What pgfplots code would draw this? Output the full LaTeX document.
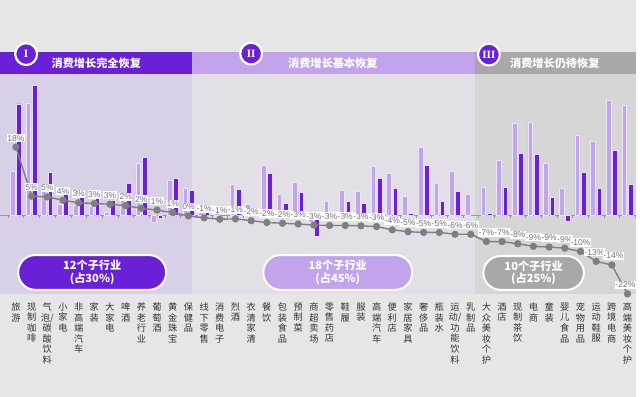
\documentclass[border=0pt]{standalone}
\usepackage{pgfplots}
\usepackage{pgfplotstable}
\pgfplotsset{compat=1.18}
\usepackage{fontspec}
\setmainfont{Liberation Sans}
\newfontfamily\cjk{Noto Sans CJK SC}
\newfontfamily\numfont{Liberation Serif}
\definecolor{dpur}{HTML}{6A20D6}
\definecolor{lpur}{HTML}{C1A4EC}
\definecolor{bgI}{HTML}{D8D0E7}
\definecolor{bgII}{HTML}{E2DFE6}
\definecolor{bgIII}{HTML}{D6D6D6}
\definecolor{bgall}{HTML}{E6E6E6}
\definecolor{hdIII}{HTML}{A8A8A8}
\definecolor{lgray}{HTML}{7F7F7F}

\pgfplotstableread{
idx light dark
0 44 112
1 113 131
2 24 43
3 11 21
4 10 19
5 9 18
6 3 15
7 15 32
8 52 58
9 -7 -3
10 35 37
11 27 25
12 4 4
13 3 nan
14 31 26
15 11 nan
16 50 42
17 21 12
18 33 23
19 -7 -21
20 14 nan
21 25 14
22 24 12
23 49 37
24 42 27
25 19 2
26 68 50
27 32 14
28 44 24
29 21 nan
30 28 2
31 55 28
32 92 62
33 93 61
34 52 18
35 27 -6
36 80 43
37 74 27
38 116 65
39 111 31
}\bars

\pgfplotstableread{
idx val lab dx
0 18.1 18 0
1 4.7 5 0
2 4.5 5 0
3 3.6 4 0
4 2.9 3 0
5 2.7 3 0
6 2.5 3 0
7 2.1 2 0
8 1.4 2 0
9 0.9 1 0
10 0.2 1 0
11 -0.7 0 0
12 -1.2 -1 0
13 -1.6 -1 0
14 -1.5 -1 0
15 -2.0 -2 0
16 -2.5 -2 0
17 -2.7 -2 0
18 -2.9 -3 0
19 -3.2 -3 0
20 -3.3 -3 0
21 -3.3 -3 0
22 -3.4 -3 0
23 -3.6 -3 0
24 -4.5 -4 0
25 -5.0 -5 0
26 -5.2 -5 0
27 -5.2 -5 0
28 -5.7 -6 0
29 -5.7 -6 0
30 -7.7 -7 0
31 -7.7 -7 0
32 -8.3 -8 0
33 -9.0 -9 0
34 -9.2 -9 0
35 -9.5 -9 0
36 -10.4 -10 0
37 -13.1 -13 -1.2
38 -14.1 -14 1.2
39 -22.0 -22 -1.5
}\linedata

\begin{document}
\begin{tikzpicture}
\begin{scope}[x=0.25mm,y=-0.25mm]
\path[use as bounding box] (0,0) rectangle (640,400);
\fill[bgall] (0,0) rectangle (640,400);
\fill[bgI] (0,75) rectangle (193.3,296);
\fill[bgII] (193.3,75) rectangle (478.3,296);
\fill[bgIII] (478.3,75) rectangle (640,296);
\end{scope}

% bars
\begin{axis}[
  at={(0,-75mm)}, anchor=south west,
  scale only axis, width=160mm, height=55mm,
  xmin=-0.994, xmax=39.51, ymin=-83.3, ymax=136.7,
  axis x line=middle, axis y line=none,
  x axis line style={-, draw=black!40, line width=0.5pt},
  xtick={-0.5,0.5,...,39.5}, xticklabel=\empty,
  major tick length=0.8mm, tick align=outside,
  tick style={draw=black!40, line width=0.4pt},
  ytick=\empty, clip=false,
]
\addplot[ybar, bar width=0.3, bar shift=-0.2, fill=lpur, draw=white!70!lpur, line width=0.5pt]
  table[x=idx, y=light]{\bars};
\addplot[ybar, bar width=0.3, bar shift=0.2, fill=dpur, draw=white!60!lpur, line width=0.5pt]
  table[x=idx, y=dark]{\bars};
\end{axis}

% line + category labels
\begin{axis}[
  at={(0,-75mm)}, anchor=south west,
  scale only axis, width=160mm, height=55mm,
  xmin=-0.994, xmax=39.51, ymin=-23.04, ymax=36.59,
  axis line style={draw=none}, tick style={draw=none},
  ytick=\empty, xtick={0,...,39},
  xticklabels={{旅\\游},{现\\制\\咖\\啡},{气\\泡/\\碳\\酸\\饮\\料},{小\\家\\电},{非\\高\\端\\汽\\车},{家\\装},{大\\家\\电},{啤\\酒},{养\\老\\行\\业},{葡\\萄\\酒},{黄\\金\\珠\\宝},{保\\健\\品},
  {线\\下\\零\\售},{消\\费\\电\\子},{烈\\酒},{衣\\清\\家\\清},{餐\\饮},{包\\装\\食\\品},{预\\制\\菜},{商\\超\\卖\\场},{零\\售\\药\\店},{鞋\\履},{服\\装},{高\\端\\汽\\车},{便\\利\\店},{家\\居\\家\\具},{奢\\侈\\品},{瓶\\装\\水},{运\\动/\\功\\能\\饮\\料},{乳\\制\\品},
  {大\\众\\美\\妆\\个\\护},{酒\\店},{现\\制\\茶\\饮},{电\\商},{童\\装},{婴\\儿\\食\\品},{宠\\物\\用\\品},{运\\动\\鞋\\服},{跨\\境\\电\\商},{高\\端\\美\\妆\\个\\护}},
  xticklabel style={anchor=north, align=center, font=\cjk\fontsize{6.6}{7.6}\selectfont, text=black!80, inner sep=0pt, yshift=-1.2mm},
  clip=false,
]
\addplot[color=lgray, line width=1pt, mark=*, mark size=2.1pt, mark options={fill=lgray, draw=lgray},
  visualization depends on={\thisrow{dx} \as \labdx},
  nodes near coords={\pgfplotspointmeta\%},
  point meta=explicit symbolic,
  every node near coord/.append style={anchor=south, yshift=3pt, xshift=\labdx pt, fill=white, inner xsep=0.4pt, inner ysep=0.8pt, text=black!55, font=\fontsize{6.1}{7}\selectfont},
] table[x=idx, y=val, meta=lab]{\linedata};
\end{axis}

\begin{scope}[x=0.25mm,y=-0.25mm]
% headers
\fill[dpur] (0,52) rectangle (193.3,75);
\fill[lpur] (193.3,52) rectangle (478.3,75);
\fill[hdIII] (478.3,52) rectangle (640,75);
\node[text=white, font=\cjk\bfseries\fontsize{8}{9}\selectfont] at (96.7,63.5) {消费增长完全恢复};
\node[text=white, font=\cjk\bfseries\fontsize{8}{9}\selectfont] at (335,63.5) {消费增长基本恢复};
\node[text=white, font=\cjk\bfseries\fontsize{8}{9}\selectfont] at (558.7,63.5) {消费增长仍待恢复};
\foreach \cx/\cy/\t in {26/54.5/I, 252.7/54/II, 492.3/55/III}{
  \draw[white, line width=0.55mm, fill=dpur] (\cx,\cy) circle (2.75mm);
  \node[text=white, font=\numfont\bfseries\fontsize{8}{8}\selectfont] at (\cx,\cy) {\t};
}
% pills
\draw[white, line width=0.5mm, fill=dpur, rounded corners=4.3mm] (18,257) rectangle (167,292);
\node[align=center, text=white, font=\cjk\bfseries\fontsize{8}{9}\selectfont] at (92.5,274.5) {12个子行业\\(占30\%)};
\draw[white, line width=0.5mm, fill=lpur, rounded corners=4.3mm] (265,257) rectangle (415,292);
\node[align=center, text=white, font=\cjk\bfseries\fontsize{8}{9}\selectfont] at (340,274.5) {18个子行业\\(占45\%)};
\draw[white, line width=0.5mm, fill=hdIII, rounded corners=4.3mm] (486.7,258) rectangle (588,292);
\node[align=center, text=white, font=\cjk\bfseries\fontsize{8}{9}\selectfont] at (537.3,275) {10个子行业\\(占25\%)};
\end{scope}
\end{tikzpicture}
\end{document}
